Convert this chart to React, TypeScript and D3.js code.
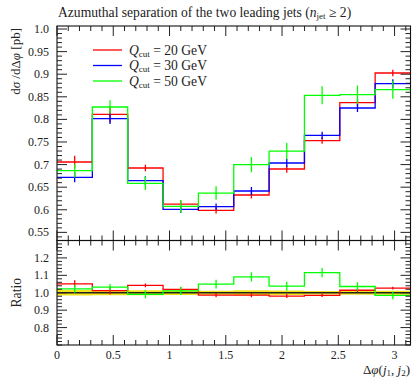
import React from "react";
import * as d3 from "d3";

// Bin edges in Δφ: ten equal bins over [0, π]
const binEdges: number[] = d3.range(11).map((i) => (i * Math.PI) / 10);

// dσ/dΔφ [pb] per bin for each merging scale
const q20: number[] = [0.7057, 0.8112, 0.6924, 0.6127, 0.5987, 0.6327, 0.6902, 0.753, 0.8371, 0.9027];
const q30: number[] = [0.6718, 0.8016, 0.6644, 0.601, 0.607, 0.6415, 0.7035, 0.7647, 0.8252, 0.8791];
const q50: number[] = [0.6866, 0.8274, 0.6585, 0.6076, 0.637, 0.6998, 0.73, 0.8533, 0.8548, 0.8658];

// Statistical uncertainties per bin
const err20: number[] = [0.014, 0.018, 0.007, 0.008, 0.007, 0.008, 0.008, 0.007, 0.008, 0.007];
const err30: number[] = [0.011, 0.012, 0.01, 0.008, 0.007, 0.009, 0.009, 0.008, 0.009, 0.01];
const err50: number[] = [0.015, 0.015, 0.015, 0.014, 0.015, 0.017, 0.018, 0.02, 0.02, 0.02];

const seriesLabels: string[] = ["20", "30", "50"];
const seriesColors: string[] = ["#ff0000", "#0000ff", "#00ff00"];

const mainYTicks: number[] = [0.55, 0.6, 0.65, 0.7, 0.75, 0.8, 0.85, 0.9, 0.95, 1.0];
const ratioYTicks: number[] = [0.8, 0.9, 1.0, 1.1, 1.2];
const xTicks: number[] = [0, 0.5, 1, 1.5, 2, 2.5, 3];

const W = 412;
const H = 378;
const left = 57;
const right = 410.5;
const mainTop = 26;
const mainBottom = 240.5;
const ratioBottom = 345;
const FONT = "'Liberation Serif', 'DejaVu Serif', serif";

const x = d3.scaleLinear().domain([0, Math.PI]).range([left, right]);
const yMain = d3.scaleLinear().domain([0.532, 1.0067]).range([mainBottom, mainTop]);
const yRatio = d3.scaleLinear().domain([0.7, 1.3]).range([ratioBottom, mainBottom]);

type Series = { vals: number[]; errs: number[]; color: string };

function stepPath(vals: number[], y: d3.ScaleLinear<number, number>): string {
  const pts: [number, number][] = vals.map((v, i) => [binEdges[i], v]);
  pts.push([binEdges[binEdges.length - 1], vals[vals.length - 1]]);
  const line = d3
    .line<[number, number]>()
    .x((d) => x(d[0]))
    .y((d) => y(d[1]))
    .curve(d3.curveStepAfter);
  return line(pts) || "";
}

function Hist({ s, y }: { s: Series; y: d3.ScaleLinear<number, number> }) {
  return (
    <g>
      <path d={stepPath(s.vals, y)} fill="none" stroke={s.color} strokeWidth={1.3} />
      {s.vals.map((v, i) => {
        const cx = x((binEdges[i] + binEdges[i + 1]) / 2);
        return (
          <line
            key={i}
            x1={cx}
            x2={cx}
            y1={y(v - s.errs[i])}
            y2={y(v + s.errs[i])}
            stroke={s.color}
            strokeWidth={1.3}
          />
        );
      })}
    </g>
  );
}

function Frame({
  top,
  bottom,
  y,
  major,
  minorStep,
  labels,
  fmt,
}: {
  top: number;
  bottom: number;
  y: d3.ScaleLinear<number, number>;
  major: number[];
  minorStep: number;
  labels: boolean;
  fmt: (v: number) => string;
}) {
  const [y0, y1] = y.domain();
  const minors = d3
    .range(Math.ceil(y0 / minorStep - 1e-6), Math.floor(y1 / minorStep + 1e-6) + 1)
    .map((k) => k * minorStep)
    .filter((v) => !major.some((m) => Math.abs(m - v) < 1e-6));
  const xMinor = d3.range(0, 32).map((k) => k * 0.1).filter((v) => v <= Math.PI && Math.abs(v * 2 - Math.round(v * 2)) > 1e-6);
  const tickColor = "#222";
  return (
    <g>
      {minors.map((v, i) => (
        <g key={"ym" + i}>
          <line x1={left} x2={left + 5} y1={y(v)} y2={y(v)} stroke={tickColor} strokeWidth={1} />
          <line x1={right} x2={right - 5} y1={y(v)} y2={y(v)} stroke={tickColor} strokeWidth={1} />
        </g>
      ))}
      {major.map((v, i) => (
        <g key={"yM" + i}>
          <line x1={left} x2={left + 10} y1={y(v)} y2={y(v)} stroke={tickColor} strokeWidth={1} />
          <line x1={right} x2={right - 10} y1={y(v)} y2={y(v)} stroke={tickColor} strokeWidth={1} />
          <text x={49} y={y(v) + 4} textAnchor="end" fontFamily={FONT} fontSize={12} fill="#222">
            {fmt(v)}
          </text>
        </g>
      ))}
      {xMinor.map((v, i) => (
        <g key={"xm" + i}>
          <line x1={x(v)} x2={x(v)} y1={top} y2={top + 5} stroke={tickColor} strokeWidth={1} />
          <line x1={x(v)} x2={x(v)} y1={bottom} y2={bottom - 5} stroke={tickColor} strokeWidth={1} />
        </g>
      ))}
      {xTicks.map((v, i) => (
        <g key={"xM" + i}>
          <line x1={x(v)} x2={x(v)} y1={top} y2={top + 10} stroke={tickColor} strokeWidth={1} />
          <line x1={x(v)} x2={x(v)} y1={bottom} y2={bottom - 10} stroke={tickColor} strokeWidth={1} />
          {labels && (
            <text x={x(v)} y={358.5} textAnchor="middle" fontFamily={FONT} fontSize={12} fill="#222">
              {String(v)}
            </text>
          )}
        </g>
      ))}
      <rect x={left} y={top} width={right - left} height={bottom - top} fill="none" stroke="#111" strokeWidth={1.1} />
    </g>
  );
}

export default function App() {
  const main: Series[] = [
    { vals: q20, errs: err20, color: seriesColors[0] },
    { vals: q30, errs: err30, color: seriesColors[1] },
    { vals: q50, errs: err50, color: seriesColors[2] },
  ];
  const ratio: Series[] = [
    { vals: q20.map((v, i) => v / q30[i]), errs: err20.map((e, i) => e / q30[i]), color: seriesColors[0] },
    { vals: q50.map((v, i) => v / q30[i]), errs: err50.map((e, i) => e / q30[i]), color: seriesColors[2] },
  ];
  const refBand = err30.map((e, i) => e / q30[i]);
  const bandArea = d3
    .area<number>()
    .x((_, i) => x(binEdges[Math.min(i, binEdges.length - 1)]))
    .y0((d) => yRatio(1 - d))
    .y1((d) => yRatio(1 + d))
    .curve(d3.curveStepAfter);

  return (
    <svg
      width={W}
      height={H}
      viewBox={`0 0 ${W} ${H}`}
      style={{ position: "absolute", left: 0, top: 0, background: "#fff" }}
    >
      <rect width={W} height={H} fill="#fff" />
      <text x={58} y={17} fontFamily={FONT} fontSize={13.6} fill="#222">
        Azumuthal separation of the two leading jets (
        <tspan fontStyle="italic">n</tspan>
        <tspan fontSize={9} dy={2}>jet</tspan>
        <tspan dy={-2}> ≥ 2)</tspan>
      </text>

      {/* main panel */}
      <clipPath id="mainClip">
        <rect x={left} y={mainTop} width={right - left} height={mainBottom - mainTop} />
      </clipPath>
      <g clipPath="url(#mainClip)">
        {main.map((s, i) => (
          <Hist key={i} s={s} y={yMain} />
        ))}
      </g>
      <Frame
        top={mainTop}
        bottom={mainBottom}
        y={yMain}
        major={mainYTicks}
        minorStep={0.01}
        labels={false}
        fmt={(v) => (Math.abs(v - 1) < 1e-9 ? "1.0" : String(+v.toFixed(2)))}
      />

      {/* legend */}
      {seriesLabels.map((lab, i) => {
        const ly = 50 + i * 15.5;
        return (
          <g key={lab}>
            <line x1={93} x2={122} y1={ly} y2={ly} stroke={seriesColors[i]} strokeWidth={1.3} />
            <text x={129} y={ly + 4.5} fontFamily={FONT} fontSize={13.6} fill="#222">
              <tspan fontStyle="italic">Q</tspan>
              <tspan fontSize={9} dy={2}>cut</tspan>
              <tspan dy={-2}>{` = ${lab} GeV`}</tspan>
            </text>
          </g>
        );
      })}

      {/* ratio panel */}
      <clipPath id="ratioClip">
        <rect x={left} y={mainBottom} width={right - left} height={ratioBottom - mainBottom} />
      </clipPath>
      <g clipPath="url(#ratioClip)">
        <path d={bandArea([...refBand, refBand[refBand.length - 1]]) || ""} fill="#f2e000" opacity={0.9} />
        <line x1={left} x2={right} y1={yRatio(1)} y2={yRatio(1)} stroke="#222" strokeWidth={1.3} />
        {ratio.map((s, i) => (
          <Hist key={i} s={s} y={yRatio} />
        ))}
      </g>
      <Frame
        top={mainBottom}
        bottom={ratioBottom}
        y={yRatio}
        major={ratioYTicks}
        minorStep={0.02}
        labels={true}
        fmt={(v) => v.toFixed(1)}
      />

      {/* axis titles */}
      <text
        transform="translate(20,28) rotate(-90)"
        textAnchor="end"
        fontFamily={FONT}
        fontSize={13}
        fill="#222"
      >
        d<tspan fontStyle="italic">σ</tspan> /d<tspan>Δ</tspan>
        <tspan fontStyle="italic">φ</tspan> [pb]
      </text>
      <text
        transform={`translate(21,${yRatio(1)}) rotate(-90)`}
        textAnchor="middle"
        fontFamily={FONT}
        fontSize={13.6}
        fill="#222"
      >
        Ratio
      </text>
      <text x={410} y={374} textAnchor="end" fontFamily={FONT} fontSize={13} fill="#222">
        Δ<tspan fontStyle="italic">φ</tspan>(<tspan fontStyle="italic">j</tspan>
        <tspan fontSize={9} dy={2}>1</tspan>
        <tspan dy={-2}>, </tspan>
        <tspan fontStyle="italic">j</tspan>
        <tspan fontSize={9} dy={2}>2</tspan>
        <tspan dy={-2}>)</tspan>
      </text>
    </svg>
  );
}
